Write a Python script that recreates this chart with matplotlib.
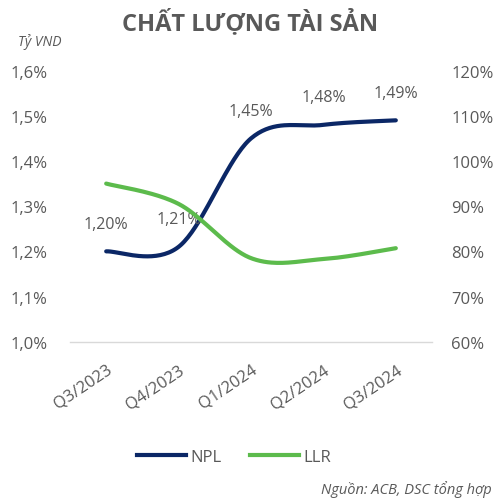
import numpy as np
import matplotlib
matplotlib.use("Agg")
import matplotlib.pyplot as plt
from matplotlib.lines import Line2D

categories = ["Q3/2023", "Q4/2023", "Q1/2024", "Q2/2024", "Q3/2024"]
npl = [1.20, 1.21, 1.45, 1.48, 1.49]          # %
llr = [95.0, 90.5, 78.5, 78.3, 80.7]          # %
npl_labels = ["1,20%", "1,21%", "1,45%", "1,48%", "1,49%"]
left_ticks = [1.0, 1.1, 1.2, 1.3, 1.4, 1.5, 1.6]
right_ticks = [60, 70, 80, 90, 100, 110, 120]

NAVY = "#0B2766"
GREEN = "#5CBB4C"
GRAY = "#595959"

plt.rcParams['font.family'] = ['Open Sans', 'DejaVu Sans']


def smooth(x, y, n=40):
    # Excel-like smoothed line: cubic Bezier with Catmull-Rom control points
    x = np.asarray(x, float)
    y = np.asarray(y, float)
    px = np.concatenate([[x[0]], x, [x[-1]]])
    py = np.concatenate([[y[0]], y, [y[-1]]])
    xs, ys = [], []
    t = np.linspace(0, 1, n)
    for i in range(1, len(px) - 2):
        p0 = np.array([px[i], py[i]])
        p3 = np.array([px[i + 1], py[i + 1]])
        c1 = p0 + (np.array([px[i + 1], py[i + 1]]) - np.array([px[i - 1], py[i - 1]])) / 6
        c2 = p3 - (np.array([px[i + 2], py[i + 2]]) - np.array([px[i], py[i]])) / 6
        b = ((1 - t) ** 3)[:, None] * p0 + (3 * (1 - t) ** 2 * t)[:, None] * c1 \
            + (3 * (1 - t) * t ** 2)[:, None] * c2 + (t ** 3)[:, None] * p3
        xs.append(b[:, 0])
        ys.append(b[:, 1])
    return np.concatenate(xs), np.concatenate(ys)


fig = plt.figure(figsize=(5.01, 5.02), dpi=100)
ax = fig.add_axes([0.1397, 0.3173, 0.7226, 0.54])
ax2 = ax.twinx()

xpos = np.arange(len(categories))
sx, sy = smooth(xpos, npl)
ax.plot(sx, sy, color=NAVY, lw=3, solid_capstyle='round', zorder=3)
lx, ly = smooth(xpos, llr)
ax2.plot(lx, ly, color=GREEN, lw=3, solid_capstyle='round', zorder=2)

for xi, yi, lab in zip(xpos, npl, npl_labels):
    ax.annotate(lab, (xi, yi), xytext=(0, 20), textcoords='offset points',
                ha='center', va='center', fontsize=11.5, color=GRAY, zorder=5)

ax.set_xlim(-0.5, len(categories) - 0.5)
ax.set_ylim(1.0, 1.6)
ax2.set_ylim(60, 120)
ax.set_yticks(left_ticks)
ax.set_yticklabels([f"{v:.1f}%".replace('.', ',') for v in left_ticks])
ax2.set_yticks(right_ticks)
ax2.set_yticklabels([f"{v}%" for v in right_ticks])
ax.set_xticks(xpos)
ax.set_xticklabels(categories, rotation=34, ha='right', va='top',
                   rotation_mode='anchor')

for a in (ax, ax2):
    for s in a.spines.values():
        s.set_visible(False)
    a.tick_params(length=0, colors=GRAY, labelsize=12)
ax.spines['bottom'].set_visible(True)
ax.spines['bottom'].set_color('#D9D9D9')
ax.spines['bottom'].set_linewidth(1)
ax.tick_params(axis='y', pad=16)
ax2.tick_params(axis='y', pad=14)
ax.tick_params(axis='x', pad=14)

fig.text(0.5, 0.955, "CHẤT LƯỢNG TÀI SẢN", ha='center', va='center',
         fontsize=17, fontweight='bold', color=GRAY)
fig.text(0.036, 0.916, "Tỷ VND", ha='left', va='center', fontsize=10,
         style='italic', color=GRAY)
fig.text(0.982, 0.025, "Nguồn: ACB, DSC tổng hợp", ha='right', va='center',
         fontsize=10.5, style='italic', color=GRAY)

handles = [Line2D([], [], color=NAVY, lw=3), Line2D([], [], color=GREEN, lw=3)]
fig.legend(handles, ["NPL", "LLR"], loc='center', bbox_to_anchor=(0.468, 0.088),
           ncol=2, frameon=False, fontsize=12, labelcolor=GRAY,
           handlelength=2.9, handletextpad=0.3, columnspacing=1.7)

fig.savefig("out.png", dpi=100)
